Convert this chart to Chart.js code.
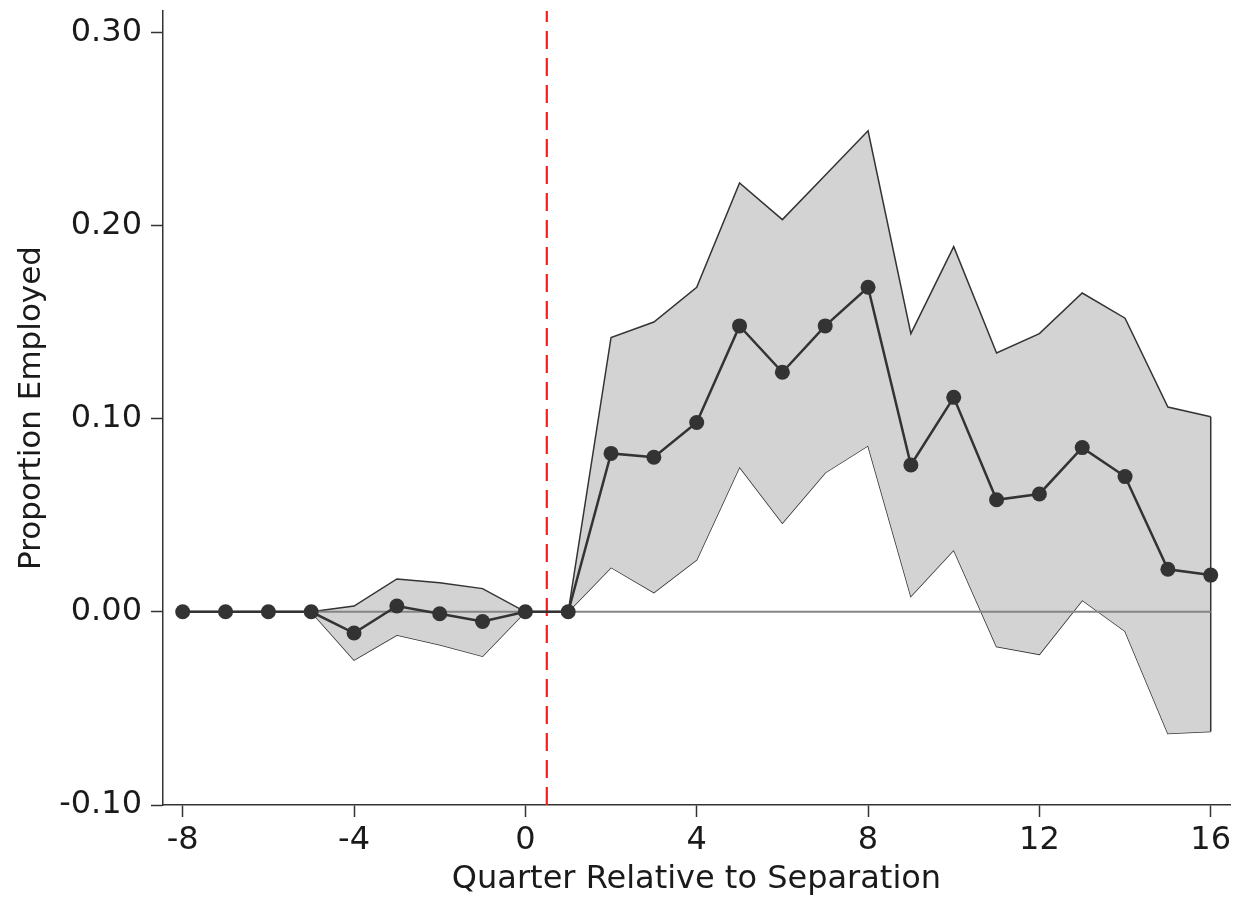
<!DOCTYPE html>
<html>
<head>
<meta charset="utf-8">
<script src="https://cdn.jsdelivr.net/npm/chart.js@4.4.0/dist/chart.umd.min.js"></script>
<style>
    html, body { margin: 0; padding: 0; background: #ffffff; }
</style>
</head>
<body>
<canvas id="chart" width="1255" height="898"></canvas>
<script>
// quarters relative to separation, point estimates
const quarters = [-8, -7, -6, -5, -4, -3, -2, -1, 0, 1, 2, 3, 4, 5, 6, 7, 8, 9, 10, 11, 12, 13, 14, 15, 16];
const estimate = [0, 0, 0, 0, -0.011, 0.003, -0.001, -0.005, 0, 0,
    0.082, 0.080, 0.098, 0.148, 0.124, 0.148, 0.168, 0.076, 0.111, 0.058, 0.061, 0.085, 0.070, 0.022, 0.019];

// confidence band (starts at -5)
const bandQuarters = [-5, -4, -3, -2, -1, 0, 1, 2, 3, 4, 5, 6, 7, 8, 9, 10, 11, 12, 13, 14, 15, 16];
const upperCI = [0, 0.003, 0.017, 0.015, 0.012, 0, 0,
    0.142, 0.150, 0.168, 0.222, 0.203, 0.226, 0.249, 0.144, 0.189, 0.134, 0.144, 0.165, 0.152, 0.106, 0.101];
const lowerCI = [0, -0.025, -0.012, -0.017, -0.023, 0, 0,
    0.023, 0.010, 0.027, 0.075, 0.046, 0.072, 0.086, 0.008, 0.032, -0.018, -0.022, 0.006, -0.010, -0.063, -0.062];

const xTicks = [-8, -4, 0, 4, 8, 12, 16];
const yTicks = [-0.10, 0.00, 0.10, 0.20, 0.30];
const separationLine = 0.5;

const xMin = -8.46, xMax = 16.45;
const yMin = -0.10, yMax = 0.311;

const FONT = "'DejaVu Sans', sans-serif";
const DARK = '#333333';

const toPoints = (xs, ys) => xs.map((x, i) => ({ x: x, y: ys[i] }));
const last = bandQuarters.length - 1;

const ctx = document.getElementById('chart').getContext('2d');
new Chart(ctx, {
    type: 'scatter',
    data: {
        datasets: [
            {   // upper bound, filled down to lower bound
                data: toPoints(bandQuarters, upperCI),
                showLine: true,
                borderColor: DARK,
                borderWidth: 1.5,
                backgroundColor: '#d3d3d3',
                pointRadius: 0,
                fill: '+1',
                order: 5
            },
            {   // lower bound
                data: toPoints(bandQuarters, lowerCI),
                showLine: true,
                borderColor: DARK,
                borderWidth: 1.5,
                pointRadius: 0,
                fill: false,
                order: 5
            },
            {   // closing edge of the band
                data: [{ x: bandQuarters[last], y: upperCI[last] }, { x: bandQuarters[last], y: lowerCI[last] }],
                showLine: true,
                borderColor: DARK,
                borderWidth: 1.5,
                pointRadius: 0,
                order: 4
            },
            {   // zero reference line
                data: [{ x: quarters[0], y: 0 }, { x: quarters[quarters.length - 1], y: 0 }],
                showLine: true,
                borderColor: '#858585',
                borderWidth: 2,
                pointRadius: 0,
                order: 3
            },
            {   // separation marker
                data: [{ x: separationLine, y: yMin }, { x: separationLine, y: yMax }],
                showLine: true,
                borderColor: '#ff1a1a',
                borderWidth: 2.2,
                borderDash: [18, 9],
                pointRadius: 0,
                order: 2
            },
            {   // connected estimates
                data: toPoints(quarters, estimate),
                showLine: true,
                borderColor: DARK,
                borderWidth: 2.5,
                pointRadius: 7.5,
                pointBackgroundColor: DARK,
                pointBorderColor: DARK,
                pointBorderWidth: 0,
                order: 1
            }
        ]
    },
    options: {
        responsive: false,
        animation: false,
        devicePixelRatio: 1,
        layout: { padding: { top: 11, right: 25, bottom: 0, left: 0 } },
        plugins: {
            legend: { display: false },
            tooltip: { enabled: false }
        },
        scales: {
            x: {
                type: 'linear',
                min: xMin,
                max: xMax,
                afterBuildTicks: scale => { scale.ticks = xTicks.map(v => ({ value: v })); },
                afterFit: scale => {
                    scale.height = 93;
                    scale.paddingLeft = 0;
                    scale.paddingRight = 0;
                },
                ticks: {
                    font: { family: FONT, size: 32 },
                    color: '#1a1a1a',
                    padding: 4,
                    maxRotation: 0,
                    callback: v => String(v)
                },
                grid: {
                    drawOnChartArea: false,
                    drawTicks: true,
                    tickLength: 12,
                    tickWidth: 1.5,
                    tickColor: DARK
                },
                border: { display: true, color: DARK, width: 1.5 },
                title: {
                    display: true,
                    text: 'Quarter Relative to Separation',
                    font: { family: FONT, size: 32, lineHeight: 1 },
                    color: '#1a1a1a',
                    padding: { top: 0, bottom: 2 }
                }
            },
            y: {
                type: 'linear',
                min: yMin,
                max: yMax,
                afterBuildTicks: scale => { scale.ticks = yTicks.map(v => ({ value: v })); },
                afterFit: scale => {
                    scale.width = 163;
                    scale.paddingTop = 0;
                    scale.paddingBottom = 0;
                },
                ticks: {
                    font: { family: FONT, size: 32 },
                    color: '#1a1a1a',
                    padding: 9,
                    callback: v => v.toFixed(2)
                },
                grid: {
                    drawOnChartArea: false,
                    drawTicks: true,
                    tickLength: 12,
                    tickWidth: 1.5,
                    tickColor: DARK
                },
                border: { display: true, color: DARK, width: 1.5 },
                title: {
                    display: true,
                    text: 'Proportion Employed',
                    font: { family: FONT, size: 31, lineHeight: 1 },
                    color: '#1a1a1a',
                    padding: { top: 16, bottom: 0 }
                }
            }
        }
    }
});
</script>
</body>
</html>
